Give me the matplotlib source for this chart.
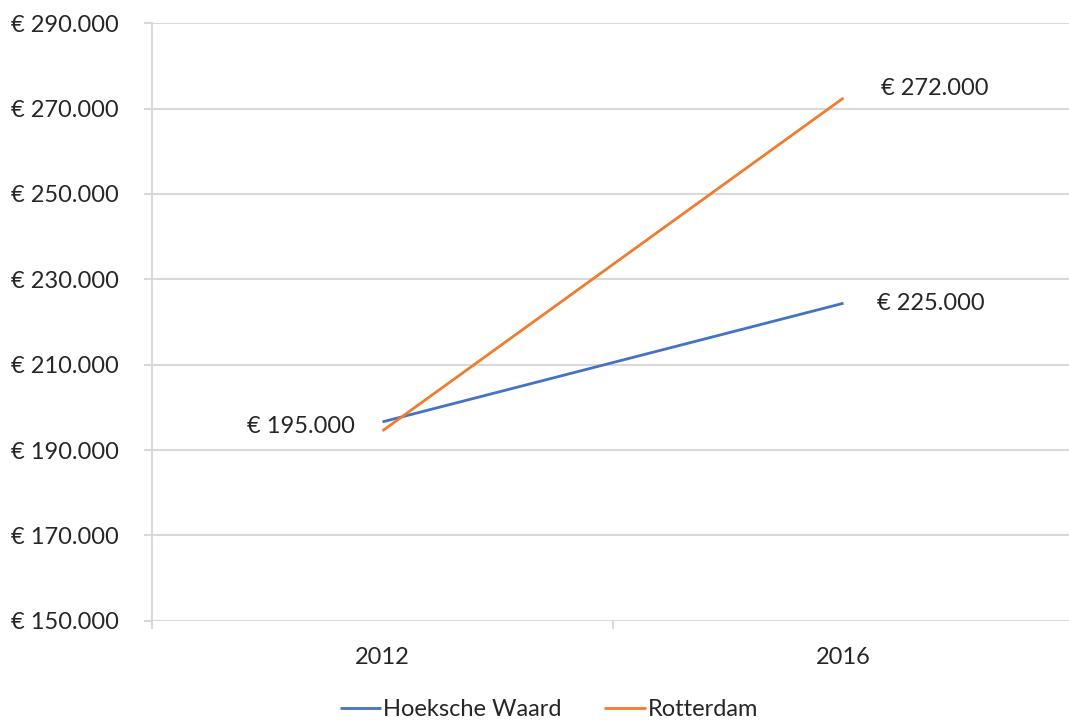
import matplotlib
matplotlib.use("Agg")
import matplotlib.pyplot as plt
from matplotlib.ticker import FuncFormatter, FixedLocator

years = ["2012", "2016"]
hoeksche_waard = [196600, 224400]
rotterdam = [194500, 272500]
series_names = ["Hoeksche Waard", "Rotterdam"]
y_ticks = list(range(150000, 290001, 20000))
labels_text = ["€ 195.000", "€ 272.000", "€ 225.000"]

plt.rcParams['font.family'] = ['Lato', 'DejaVu Sans']
text_color = "#262626"
grid_color = "#d9d9d9"
fs = 17

fig = plt.figure(figsize=(10.69, 7.2), dpi=100)
ax = fig.add_axes([152/1069, 1-620.7/720, (1074-152)/1069, (620.7-23.3)/720])

x = list(range(len(years)))
ax.plot(x, hoeksche_waard, color="#4472C4", lw=2.0, label=series_names[0], solid_capstyle='butt')
ax.plot(x, rotterdam, color="#ED7D31", lw=2.0, label=series_names[1], solid_capstyle='butt')

ax.set_xlim(-0.5, 1.5)
ax.set_ylim(150000, 290000)
ax.set_yticks(y_ticks)
ax.yaxis.set_major_formatter(FuncFormatter(lambda v, p: "€ " + f"{int(v):,}".replace(",", ".")))
ax.set_xticks(x)
ax.set_xticklabels(years)
ax.xaxis.set_minor_locator(FixedLocator([-0.5, 0.5, 1.5]))

ax.grid(axis='y', color=grid_color, lw=1.5)
ax.set_axisbelow(True)
for s in ["top", "right", "bottom"]:
    ax.spines[s].set_visible(False)
ax.spines["left"].set_color(grid_color)
ax.spines["left"].set_linewidth(1.5)

ax.tick_params(axis='y', length=6, width=1.5, color=grid_color, labelsize=fs, labelcolor=text_color, pad=18)
ax.tick_params(axis='x', which='major', length=0, labelsize=fs, labelcolor=text_color, pad=19)
ax.tick_params(axis='x', which='minor', length=6, width=1.5, color=grid_color)

# data labels
ax.annotate(labels_text[0], (x[0], rotterdam[0]), xytext=(-20, 3), textcoords='offset points',
            ha='right', va='center', fontsize=fs, color=text_color)
ax.annotate(labels_text[1], (x[1], rotterdam[1]), xytext=(27, 7), textcoords='offset points',
            ha='left', va='center', fontsize=fs, color=text_color)
ax.annotate(labels_text[2], (x[1], hoeksche_waard[1]), xytext=(24, 0), textcoords='offset points',
            ha='left', va='center', fontsize=fs, color=text_color)

leg = fig.legend(loc='center', bbox_to_anchor=(549/1069, 1-710/720), ncol=2, frameon=False,
                 fontsize=fs, handlelength=1.75, handletextpad=0.1, columnspacing=1.8,
                 labelcolor=text_color)

fig.savefig("out.png", dpi=100)
